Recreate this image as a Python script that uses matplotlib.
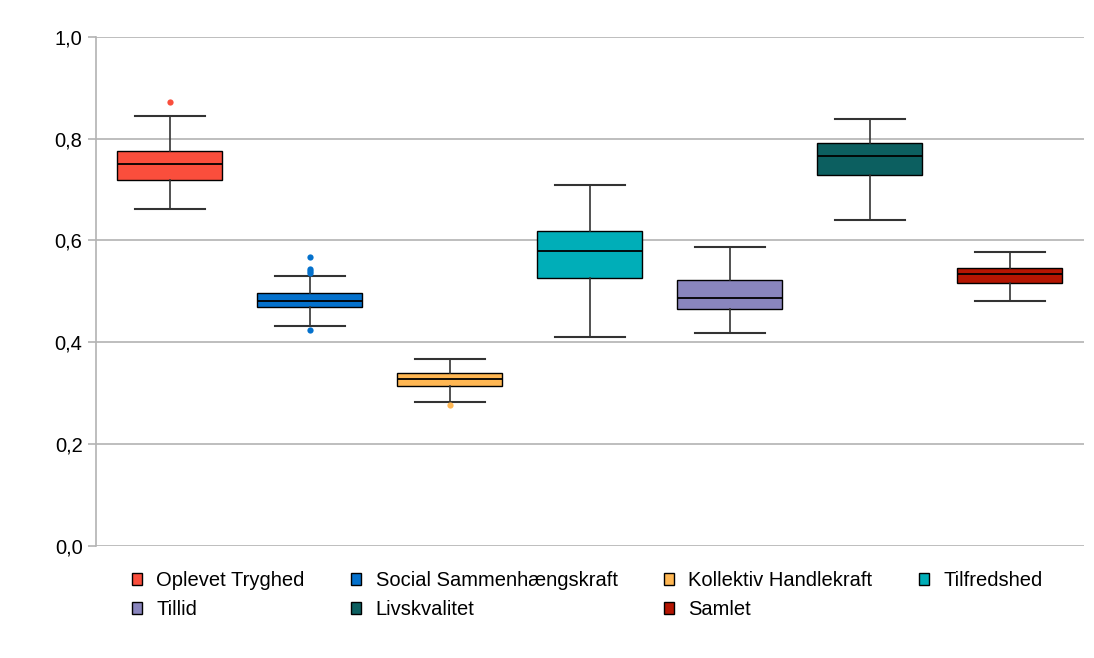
import matplotlib
matplotlib.use("Agg")
import matplotlib.pyplot as plt
from matplotlib.patches import Patch
from matplotlib.ticker import FuncFormatter

plt.rcParams['font.family'] = ['Liberation Sans', 'DejaVu Sans']
plt.rcParams['font.size'] = 14.5

# Categories and colors
labels = ["Oplevet Tryghed", "Social Sammenhængskraft", "Kollektiv Handlekraft",
          "Tilfredshed", "Tillid", "Livskvalitet", "Samlet"]
colors = ["#fa4e3c", "#0471cc", "#ffb753", "#00aeb8", "#8985bd", "#0c5f60", "#b41502"]

# Box statistics
whislo = [0.662, 0.432, 0.283, 0.411, 0.419, 0.641, 0.481]
q1     = [0.718, 0.469, 0.315, 0.527, 0.465, 0.728, 0.516]
med    = [0.750, 0.482, 0.328, 0.580, 0.486, 0.765, 0.535]
q3     = [0.776, 0.496, 0.339, 0.619, 0.523, 0.791, 0.546]
whishi = [0.845, 0.530, 0.368, 0.709, 0.587, 0.839, 0.577]
fliers = [[0.871], [0.567, 0.544, 0.540, 0.537, 0.425], [0.277], [], [], [], []]

stats = []
for i in range(len(labels)):
    stats.append(dict(label=labels[i], whislo=whislo[i], q1=q1[i], med=med[i],
                      q3=q3[i], whishi=whishi[i], fliers=fliers[i]))

fig = plt.figure(figsize=(10.94, 6.58), dpi=100)
ax = fig.add_axes([0.0882, 0.1702, 0.9027, 0.774])

pos = list(range(len(labels)))
bp = ax.bxp(stats, positions=pos, widths=0.75, capwidths=0.5, patch_artist=True,
            showfliers=True,
            boxprops=dict(edgecolor='black', linewidth=1.0),
            medianprops=dict(color='black', linewidth=1.3),
            whiskerprops=dict(color='#333333', linewidth=1.2),
            capprops=dict(color='#333333', linewidth=1.5),
            flierprops=dict(marker='o', markersize=4.5, markeredgewidth=0))

for box, c in zip(bp['boxes'], colors):
    box.set_facecolor(c)
for fl, c in zip(bp['fliers'], colors):
    fl.set_markerfacecolor(c)
    fl.set_markeredgecolor(c)

ax.set_xlim(-0.525, 6.53)
ax.set_ylim(0, 1.0)
ax.set_yticks([0, 0.2, 0.4, 0.6, 0.8, 1.0])
ax.yaxis.set_major_formatter(FuncFormatter(lambda v, p: ('%.1f' % v).replace('.', ',')))
ax.set_xticks([])
ax.yaxis.grid(True, color='#b3b3b3', linewidth=1.2)
ax.set_axisbelow(True)
for s in ['top', 'right', 'bottom']:
    ax.spines[s].set_visible(False)
ax.spines['left'].set_color('#b3b3b3')
ax.spines['left'].set_linewidth(1.2)
ax.tick_params(axis='y', length=6, width=1.2, color='#b3b3b3', pad=4)

# legend in row-major order
handles = [Patch(facecolor=c, edgecolor='black', linewidth=1.0) for c in colors]
order = [0, 4, 1, 5, 2, 6, 3]
fig.legend([handles[i] for i in order], [labels[i] for i in order],
           ncol=4, loc='upper left', bbox_to_anchor=(0.1204, 0.132),
           frameon=False, handlelength=0.52, handleheight=0.52, handletextpad=0.7,
           columnspacing=2.3, labelspacing=0.5, borderaxespad=0, borderpad=0)

fig.savefig("out.png", dpi=100)
